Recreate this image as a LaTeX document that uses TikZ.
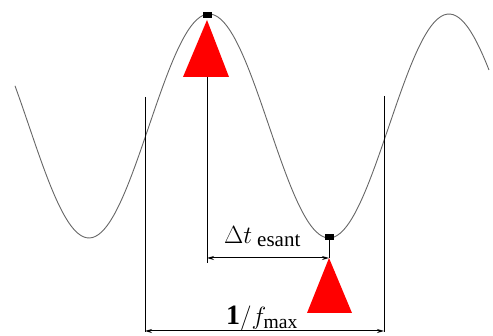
\documentclass[tikz,border=0pt]{standalone}
\usepackage{fontspec}
\setmainfont{Liberation Serif}
\usetikzlibrary{arrows.meta}
\begin{document}
\begin{tikzpicture}[x=1pt,y=-1pt,
  wave/.style={draw=black!60,line width=0.9pt},
  guide/.style={draw=black,line width=1pt},
  dim/.style={draw=black,line width=1pt,{Stealth[length=7pt,width=4pt]}-{Stealth[length=7pt,width=4pt]}},
  marker/.style={fill=red,draw=none},
  peak/.style={fill=black,draw=none,minimum width=9pt,minimum height=6pt,inner sep=0pt,rectangle},
  lbl/.style={inner sep=0pt,anchor=base west}]
\useasboundingbox (0,0) rectangle (493,336);
% sine wave
\draw[wave,smooth] plot[domain=15:489,samples=160] (\x,{126+112*cos(1.5*(\x-89))});
% peak markers
\node[peak] (p1) at (207,15) {};
\node[peak] (p2) at (329,237) {};
% red triangles
\coordinate (t1apex) at (207,20);
\coordinate (t1base) at (207,77);
\fill[marker] (t1apex) -- (183,77) -- (229,77) -- cycle;
\coordinate (t2apex) at (329,258);
\fill[marker] (t2apex) -- (307,313) -- (352,313) -- cycle;
% guide lines
\coordinate (mbot) at (207,263);
\coordinate (ltop) at (145,97);
\coordinate (lbot) at (145,332);
\coordinate (rtop) at (384,96);
\coordinate (rbot) at (384,332);
\draw[guide] (t1base) -- (mbot);
\draw[guide] (ltop) -- (lbot);
\draw[guide] (rtop) -- (rbot);
\draw[guide] (p2.center) -- (t2apex);
% dimension arrows
\coordinate (dl) at (207,258);
\coordinate (dr) at (329,258);
\draw[dim] (dl) -- (dr);
\coordinate (fl) at (145,331);
\coordinate (fr) at (384,331);
\draw[dim] (fl) -- (fr);
% labels
\node[lbl,font=\fontsize{23}{25}\selectfont] (dt) at (224,244) {$\Delta t$};
\node[lbl,font=\fontsize{21}{23}\selectfont] (es) at (257,247) {esant};
\node[lbl,font=\fontsize{28}{30}\selectfont] (fm) at (226,325) {$\mathbf{1}/f_{\mathrm{max}}$};
\end{tikzpicture}
\end{document}
